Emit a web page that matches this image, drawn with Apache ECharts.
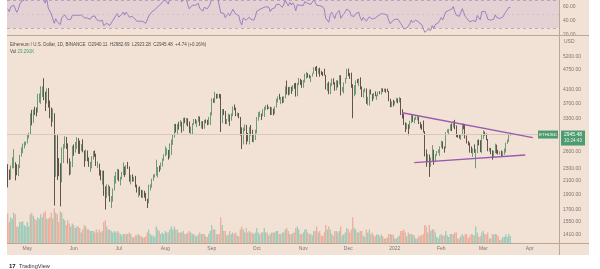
<!DOCTYPE html>
<html><head><meta charset="utf-8">
<script src="https://cdn.jsdelivr.net/npm/echarts@6/dist/echarts.min.js"></script>
<style>html,body{margin:0;padding:0;background:#fff;}#c{width:600px;height:269px;}</style>
</head><body><div id="c"></div>
<script>
// ---------- DATA (daily ETH/USD, 18 Apr 2021 - 19 Mar 2022) ----------
const startDate = '2021-04-18';
const dayCount = 368;               // category slots on the time axis (to 20 Apr 2022)
const firstOpen = 2346;
const warmupCloses = [2077,2107,2118,1971,2088,2071,2135,2157,2139,2299,2432,2514,2423,2346];
const closes = [
 2237,2163,2331,2357,2397,2364,2214,2316,2534,2662,2747,2756,2772,
 2945,2950,3431,3241,3523,3490,3484,3903,3917,3950,4169,3811,3720,4079,3640,3587,3277,3386,2438,2773,2430,2296,2101,2640,2710,2881,2744,2415,2280,2386,2706,
 2635,2708,2856,2690,2629,2714,2594,2517,2612,2475,2355,2374,2508,2590,2550,2360,2374,2230,2177,2246,1890,1875,1970,1990,1810,1830,1980,2085,2160,2275,
 2110,2150,2225,2325,2198,2323,2317,2114,2150,2137,2140,2031,1940,1995,1915,1874,1896,1892,1820,1788,1995,2030,2125,2188,2190,2228,2300,2298,2380,2460,2536,
 2557,2608,2507,2725,2827,2890,3157,3013,3163,3140,3165,3050,3322,3268,3311,3151,3015,3024,3182,3286,3225,3240,3322,3173,3226,3101,3264,3226,3220,3228,3430,
 3825,3788,3938,3887,3952,3926,3428,3497,3425,3209,3265,3408,3285,3430,3612,3571,3399,3434,3330,2977,2760,3077,3153,2930,2925,3062,2935,2806,2850,3000,
 3310,3390,3418,3380,3515,3580,3588,3560,3577,3415,3545,3495,3605,3789,3865,3830,3845,3745,3877,4155,4055,3971,4169,4084,4220,4130,3925,4285,4417,4325,4290,
 4325,4590,4605,4535,4480,4520,4610,4810,4730,4630,4725,4665,4645,4625,4555,4200,4245,3980,4295,4420,4265,4090,4340,4270,4525,4040,4090,4300,4440,4630,
 4585,4515,4240,4115,4190,4345,4310,4430,4110,3900,4080,4125,3790,3860,4020,3960,3875,3960,3925,3935,4025,3985,4110,4050,4090,4065,4040,3800,3630,3705,3680,
 3765,3830,3765,3790,3540,3420,3195,3090,3160,3080,3240,3375,3245,3310,3330,3350,3215,3165,3095,3000,2560,2410,2535,2440,2460,2600,2420,2545,2600,2605,2690,
 2790,2685,2670,2990,3015,3060,3145,3125,3240,3075,2930,2920,2880,2935,3180,3125,2885,2790,2765,2625,2575,2645,2590,2595,2785,2780,2620,2920,
 2970,2950,2835,2620,2665,2560,2500,2575,2730,2610,2560,2570,2515,2595,2620,2770,2815,2940.74,2945.48
];
const highs = [
 2370,2280,2350,2495,2645,2405,2370,2365,2540,2680,2757,2797,2800,
 2950,2985,3440,3530,3540,3610,3590,3970,3980,4200,4190,4450,4030,4130,4140,3780,3590,3560,3440,2935,2930,2480,2385,2680,2745,2910,2895,2760,2475,2420,2710,
 2740,2790,2890,2870,2817,2745,2845,2620,2640,2620,2490,2410,2515,2610,2620,2560,2420,2380,2270,2260,2260,2015,2045,2040,2015,1875,1985,2175,2240,2290,
 2280,2160,2240,2400,2330,2350,2410,2330,2190,2200,2160,2175,2040,2000,2015,1965,1960,1950,1920,1840,2040,2045,2130,2200,2200,2450,2320,2345,2400,2470,2550,
 2700,2665,2630,2760,2840,2950,3185,3185,3180,3235,3275,3235,3330,3335,3325,3320,3240,3125,3200,3300,3300,3270,3375,3360,3248,3250,3280,3290,3280,3350,3470,
 3840,3840,4030,3970,3970,3970,3960,3550,3550,3500,3300,3430,3410,3440,3620,3670,3590,3460,3450,3350,3105,3100,3175,3160,2980,3110,3160,3050,2950,3050,
 3350,3470,3490,3435,3545,3610,3650,3670,3620,3610,3600,3560,3620,3830,3895,3970,3880,3890,3900,4190,4375,4170,4185,4185,4230,4290,4300,4300,4460,4430,4390,
 4395,4600,4665,4620,4570,4530,4630,4825,4840,4870,4780,4810,4700,4660,4770,4560,4300,4340,4300,4440,4450,4320,4390,4375,4550,4550,4170,4315,4460,4770,
 4780,4630,4635,4260,4230,4380,4425,4440,4480,4190,4095,4140,4130,3885,4095,4100,3970,3995,4040,3950,4035,4045,4140,4130,4130,4120,4125,4050,3830,3760,3800,
 3770,3855,3840,3880,3850,3545,3425,3220,3200,3175,3260,3410,3390,3335,3365,3385,3360,3230,3175,3265,3020,2640,2555,2545,2490,2725,2635,2550,2610,2640,2700,
 2815,2800,2700,2995,3060,3070,3175,3195,3250,3280,3150,2945,2955,2950,3190,3190,3165,2925,2810,2775,2700,2660,2740,2650,2835,2840,2825,2935,
 3040,3010,2970,2850,2675,2670,2625,2615,2755,2735,2635,2605,2620,2605,2660,2780,2840,2950,2982.69
];
const lows = [
 2000,2110,2118,2300,2300,2105,2185,2170,2305,2505,2570,2660,2720,
 2760,2865,2950,3150,3210,3400,3365,3460,3720,3690,3880,3790,3500,3700,3590,3320,3120,3230,1750,2160,2110,2170,1740,2075,2390,2660,2650,2380,2185,2200,2320,
 2520,2580,2650,2560,2555,2610,2585,2325,2425,2420,2325,2240,2300,2450,2500,2340,2305,2180,2105,2040,1880,1700,1850,1880,1800,1720,1800,1955,2055,2110,
 2090,2030,2120,2190,2160,2190,2290,2085,2045,2085,2085,2000,1925,1860,1885,1855,1850,1855,1810,1718,1780,1954,1995,2100,2150,2180,2150,2240,2275,2330,2430,
 2510,2535,2450,2480,2535,2730,2880,2990,2950,3055,3125,2985,3020,3200,3150,3125,2980,2945,2955,3160,3190,3110,3225,3140,3080,3065,3075,3200,3155,3165,3155,
 3390,3720,3710,3830,3840,3840,3000,3200,3400,3180,3180,3240,3140,3260,3370,3520,3370,3360,3320,2925,2650,2740,3020,2740,2800,2740,2925,2790,2780,2830,
 2970,3260,3350,3280,3370,3350,3530,3540,3550,3400,3400,3390,3420,3590,3725,3805,3680,3705,3720,3840,3950,3925,3950,3970,4050,4120,3890,3900,4230,4240,4150,
 4150,4310,4440,4470,4450,4330,4505,4600,4700,4500,4600,4500,4560,4520,4540,4100,4050,3960,3960,4200,4250,4060,4075,4160,4250,3920,4030,3980,4280,4420,
 4520,4425,4150,3320,3900,3950,4290,4200,4100,3880,3860,4020,3690,3650,3640,3950,3760,3820,3900,3800,3900,3960,3950,4020,4030,4000,4030,3760,3600,3600,3620,
 3665,3725,3705,3730,3400,3315,3160,3000,3060,2930,3070,3200,3230,3200,3280,3270,3180,3080,3050,2990,2510,2325,2400,2160,2325,2420,2360,2405,2520,2570,2520,
 2680,2650,2580,2660,2985,2950,3030,3020,3100,3060,2890,2880,2860,2830,2925,3060,2860,2760,2720,2580,2570,2500,2575,2300,2570,2720,2590,2570,
 2855,2920,2825,2605,2600,2550,2450,2480,2570,2560,2545,2545,2500,2505,2540,2580,2750,2790,2923.28
];
const volumes = [ // thousands
 98,70,85,80,100,95,55,55,70,70,72,60,55,
 70,55,95,100,90,80,75,85,80,95,85,100,105,80,80,85,100,80,115,100,95,70,105,100,80,75,60,75,65,55,65,
 60,50,55,55,50,35,45,60,55,45,45,40,40,40,35,45,35,45,35,40,70,75,55,45,45,40,35,40,35,40,
 35,30,25,30,30,30,30,35,30,20,18,25,25,30,25,22,18,18,22,35,45,30,25,25,20,55,45,40,30,35,30,
 40,35,35,45,55,45,55,45,45,35,35,35,40,30,30,35,40,35,30,30,25,22,28,35,30,30,30,22,20,30,40,
 60,45,45,30,28,30,85,60,40,40,25,28,40,30,35,30,35,25,22,45,55,45,35,50,35,40,35,35,30,35,
 50,35,28,35,35,50,35,35,25,30,35,35,35,40,40,30,30,35,35,45,50,40,30,28,32,35,50,55,45,30,30,
 35,45,45,35,30,30,25,40,40,55,35,40,25,22,35,60,45,55,45,30,25,40,40,35,40,55,25,30,35,50,
 45,35,45,85,50,45,35,35,40,40,25,20,45,35,45,30,35,25,22,28,28,22,28,22,15,15,18,30,30,28,28,
 15,15,20,25,40,40,45,35,22,35,30,30,28,25,15,15,22,25,25,30,60,55,35,60,40,45,45,35,20,15,25,
 30,25,25,40,25,20,30,30,28,35,35,15,15,22,30,22,30,28,15,22,30,28,25,55,35,20,22,35,
 40,30,28,35,15,15,30,28,30,28,22,10,12,20,20,28,20,30,23.291
];
const priceTicks = [1410,1550,1700,1900,2100,2300,2600,3300,3700,4100,4750,5200];
const rsiTicks = [20,40,60];
const monthNames = ['2022','Feb','Mar','Apr','May','Jun','Jul','Aug','Sep','Oct','Nov','Dec'];
const trendUpper = [['2022-01-06',3456],['2022-04-03',2880]];
const trendLower = [['2022-01-14',2396],['2022-03-29',2535]];
const lastPrice = 2945.48;
const headerText = 'Ethereum / U.S. Dollar, 1D, BINANCE  O2940.11  H2982.69  L2923.28  C2945.48  +4.74 (+0.16%)';
const volText = '23.291K';

// ---------- BUILD ----------
const FONT = '"Liberation Sans", Arial, sans-serif';
const BG = '#f2e2d5';
const dates = [];
const d0 = Date.parse(startDate + 'T00:00:00Z');
for (let i = 0; i < dayCount; i++) dates.push(new Date(d0 + i * 86400000).toISOString().slice(0, 10));

const candles = closes.map((c, i) => [i === 0 ? firstOpen : closes[i - 1], c, lows[i], highs[i]]);
const volData = volumes.map((v, i) => ({ value: v, itemStyle: { color: candles[i][1] >= candles[i][0] ? '#8cc7b5' : '#eaa493' } }));

// RSI(14), Wilder smoothing, computed from the closes (with pre-chart warm-up closes)
function rsi(arr, n) {
  const out = [];
  let ag = 0, al = 0;
  for (let i = 1; i < arr.length; i++) {
    const ch = arr[i] - arr[i - 1];
    const g = Math.max(ch, 0), l = Math.max(-ch, 0);
    if (i <= n) { ag += g / n; al += l / n; }
    else { ag = (ag * (n - 1) + g) / n; al = (al * (n - 1) + l) / n; }
    out.push(i >= n ? (al === 0 ? 100 : 100 - 100 / (1 + ag / al)) : '-');
  }
  return out;
}
const rsiAll = rsi(warmupCloses.concat(closes), 14);
const rsiValues = rsiAll.slice(warmupCloses.length - 1);

const labelStyle = { color: '#7c7570', fontSize: 5, fontFamily: FONT };

const chart = echarts.init(document.getElementById('c'), null, { renderer: 'canvas' });
const option = {
  backgroundColor: BG,
  animation: false,
  textStyle: { fontFamily: FONT },
  grid: [
    { left: 7, width: 552, top: 0, height: 35 },
    { left: 7, width: 552, top: 36, height: 207 },
    { left: 7, width: 552, top: 208, height: 35 }
  ],
  xAxis: [0, 1, 2].map(i => ({
    type: 'category', gridIndex: i, data: dates, boundaryGap: true,
    axisLine: { show: false }, axisTick: { show: false }, splitLine: { show: false },
    axisLabel: i === 2 ? Object.assign({
      show: true, margin: 3,
      interval: (idx, v) => v.slice(8) === '01',
      formatter: v => monthNames[(+v.slice(5, 7)) - 1]
    }, labelStyle) : { show: false }
  })),
  yAxis: [
    { type: 'value', gridIndex: 0, position: 'right', min: 20, max: 70,
      axisLine: { show: false }, axisTick: { show: false }, splitLine: { show: false },
      axisLabel: Object.assign({ customValues: rsiTicks, formatter: v => v.toFixed(2), margin: 4 }, labelStyle) },
    { type: 'log', gridIndex: 1, position: 'right', min: 1330, max: 6066,
      axisLine: { show: false }, axisTick: { show: false }, splitLine: { show: false },
      axisLabel: Object.assign({ customValues: priceTicks, formatter: v => (+v).toFixed(2), margin: 4 }, labelStyle) },
    { type: 'value', gridIndex: 2, min: 0, max: 116, show: false, splitLine: { show: false } }
  ],
  series: [
    { type: 'line', xAxisIndex: 0, yAxisIndex: 0, data: rsiValues, symbol: 'none',
      lineStyle: { color: '#8a6cbd', width: 0.8 },
      markArea: { silent: true, itemStyle: { color: 'rgba(140,100,200,0.13)' }, data: [[{ yAxis: 30 }, { yAxis: 70 }]] },
      markLine: { silent: true, symbol: ['none', 'none'], label: { show: false },
        lineStyle: { color: '#a592b4', width: 0.7, type: [3, 3] },
        data: [{ yAxis: 70 }, { yAxis: 30 }, { yAxis: 50, lineStyle: { color: '#cbb9c6', type: [2, 3] } }] } },
    { type: 'bar', xAxisIndex: 2, yAxisIndex: 2, data: volData, barWidth: '75%' },
    { type: 'candlestick', xAxisIndex: 1, yAxisIndex: 1, data: candles, barWidth: '65%',
      itemStyle: { color: '#5a9c6b', color0: '#3e2d2a', borderColor: '#4a8a5b', borderColor0: '#3e2d2a', borderWidth: 0.8 },
      markLine: { silent: true, symbol: ['none', 'none'], label: { show: false },
        lineStyle: { color: '#9a5aae', width: 1.3, type: 'solid' },
        data: [
          { yAxis: lastPrice, lineStyle: { color: '#dcc6b6', width: 1, type: 'solid' } },
          [{ coord: trendUpper[0] }, { coord: trendUpper[1] }],
          [{ coord: trendLower[0] }, { coord: trendLower[1] }]
        ] } }
  ]
};
chart.setOption(option);

const py = chart.convertToPixel({ yAxisIndex: 1 }, lastPrice);
const LINE = '#b9a899';
chart.setOption({
  graphic: [
    { type: 'line', shape: { x1: 7, y1: 35.5, x2: 589, y2: 35.5 }, style: { stroke: LINE, lineWidth: 1 }, z: 50 },
    { type: 'line', shape: { x1: 559.5, y1: 0, x2: 559.5, y2: 255 }, style: { stroke: LINE, lineWidth: 1 }, z: 50 },
    { type: 'line', shape: { x1: 7, y1: 243.5, x2: 589, y2: 243.5 }, style: { stroke: LINE, lineWidth: 1 }, z: 50 },
    { type: 'text', left: 564, top: 39, style: { text: 'USD', fill: '#7c7570', font: '5px ' + FONT }, z: 50 },
    { type: 'text', left: 10, top: 42.5, style: { text: headerText, fill: '#4e4a47', font: '4.5px ' + FONT }, z: 50 },
    { type: 'text', left: 10, top: 49, style: { rich: { a: { fill: '#4e4a47', font: '4.5px ' + FONT }, b: { fill: '#3c9a72', font: '4.5px ' + FONT } }, text: '{a|Vol }{b|' + volText + '}' }, z: 50 },
    { type: 'rect', shape: { x: 538, y: py - 4, width: 20, height: 8 }, style: { fill: '#4d9b70' }, z: 60 },
    { type: 'text', x: 548, y: py, style: { text: 'ETHUSD', fill: '#ffffff', font: '4.3px ' + FONT, align: 'center', verticalAlign: 'middle' }, z: 61 },
    { type: 'rect', shape: { x: 561, y: py - 4, width: 24, height: 15 }, style: { fill: '#4d9b70' }, z: 60 },
    { type: 'text', x: 573, y: py, style: { text: lastPrice.toFixed(2), fill: '#ffffff', font: '5px ' + FONT, align: 'center', verticalAlign: 'middle' }, z: 61 },
    { type: 'text', x: 573, y: py + 6.5, style: { text: '10:24:43', fill: '#e8f3ec', font: '4.6px ' + FONT, align: 'center', verticalAlign: 'middle' }, z: 61 },
    { type: 'rect', shape: { x: 0, y: 0, width: 7, height: 269 }, style: { fill: '#ffffff' }, z: 100 },
    { type: 'rect', shape: { x: 589, y: 0, width: 11, height: 269 }, style: { fill: '#ffffff' }, z: 100 },
    { type: 'rect', shape: { x: 0, y: 255, width: 600, height: 14 }, style: { fill: '#ffffff' }, z: 100 },
    { type: 'text', left: 9, top: 260.5, style: { rich: { l: { fill: '#222', font: 'bold 6px ' + FONT }, t: { fill: '#333', font: '5.6px ' + FONT } }, text: '{l|17} {t|TradingView}' }, z: 101 }
  ]
});
</script></body></html>
